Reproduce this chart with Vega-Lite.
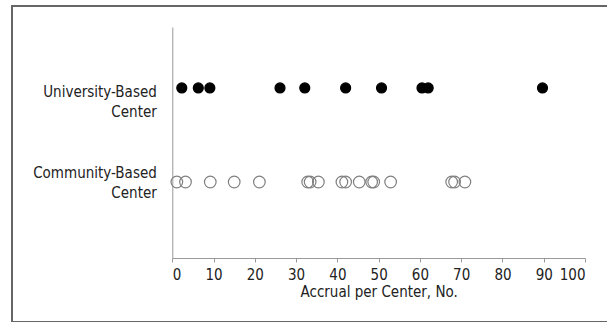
{
  "$schema": "https://vega.github.io/schema/vega-lite/v6.json",
  "width": 600,
  "height": 316,
  "autosize": {"type": "none"},
  "padding": {"left": 12, "top": 6, "right": 0, "bottom": 0},
  "background": "white",
  "config": {
    "view": {"stroke": "#666666", "strokeWidth": 2},
    "font": "Liberation Sans Narrow, DejaVu Sans Condensed, sans-serif"
  },
  "data": {
    "values": [
      {"center": "University-Based Center", "accrual": 2.3},
      {"center": "University-Based Center", "accrual": 6.3},
      {"center": "University-Based Center", "accrual": 9.1},
      {"center": "University-Based Center", "accrual": 26.1},
      {"center": "University-Based Center", "accrual": 32.1},
      {"center": "University-Based Center", "accrual": 42.0},
      {"center": "University-Based Center", "accrual": 50.7},
      {"center": "University-Based Center", "accrual": 60.5},
      {"center": "University-Based Center", "accrual": 62.0},
      {"center": "University-Based Center", "accrual": 89.7},
      {"center": "Community-Based Center", "accrual": 1.1},
      {"center": "Community-Based Center", "accrual": 3.2},
      {"center": "Community-Based Center", "accrual": 9.2},
      {"center": "Community-Based Center", "accrual": 15.0},
      {"center": "Community-Based Center", "accrual": 21.1},
      {"center": "Community-Based Center", "accrual": 32.8},
      {"center": "Community-Based Center", "accrual": 33.4},
      {"center": "Community-Based Center", "accrual": 35.4},
      {"center": "Community-Based Center", "accrual": 41.1},
      {"center": "Community-Based Center", "accrual": 42.0},
      {"center": "Community-Based Center", "accrual": 45.3},
      {"center": "Community-Based Center", "accrual": 48.3},
      {"center": "Community-Based Center", "accrual": 48.8},
      {"center": "Community-Based Center", "accrual": 52.9},
      {"center": "Community-Based Center", "accrual": 67.7},
      {"center": "Community-Based Center", "accrual": 68.4},
      {"center": "Community-Based Center", "accrual": 70.9}
    ]
  },
  "mark": {"type": "point", "shape": "circle", "opacity": 1, "strokeWidth": 1.2},
  "encoding": {
    "x": {
      "field": "accrual",
      "type": "quantitative",
      "scale": {"domain": [0, 100], "range": [160.3, 573], "nice": false, "zero": false},
      "axis": {
        "values": [0, 10, 20, 30, 40, 50, 60, 70, 80, 90, 100],
        "offset": -64,
        "grid": false,
        "domainColor": "#999999",
        "tickColor": "#999999",
        "tickSize": 4,
        "labelPadding": 5,
        "labelFontSize": 15,
        "labelColor": "#222222",
        "title": "Accrual per Center, No.",
        "titleFontSize": 15,
        "titleFontWeight": "normal",
        "titleColor": "#222222",
        "titlePadding": 2
      }
    },
    "y": {
      "field": "center",
      "type": "nominal",
      "sort": ["University-Based Center", "Community-Based Center"],
      "scale": {"type": "point", "range": [21, 252], "padding": 0.7287, "align": 0.445},
      "axis": {
        "title": null,
        "offset": -160.3,
        "grid": false,
        "ticks": false,
        "domainColor": "#999999",
        "labelPadding": 16,
        "labelAlign": "right",
        "labelBaseline": "middle",
        "labelFontSize": 15,
        "labelColor": "#222222",
        "labelLineHeight": 20,
        "labelOffset": {"condition": {"test": "datum.value === 'University-Based Center'", "value": 4}, "value": -9},
        "labelExpr": "[replace(datum.label, ' Center', ''), 'Center']"
      }
    },
    "fill": {
      "field": "center",
      "type": "nominal",
      "scale": {"domain": ["University-Based Center", "Community-Based Center"], "range": ["#000000", "transparent"]},
      "legend": null
    },
    "stroke": {
      "field": "center",
      "type": "nominal",
      "scale": {"domain": ["University-Based Center", "Community-Based Center"], "range": ["#000000", "#808080"]},
      "legend": null
    },
    "size": {
      "field": "center",
      "type": "nominal",
      "scale": {"domain": ["University-Based Center", "Community-Based Center"], "range": [100, 135]},
      "legend": null
    }
  }
}
